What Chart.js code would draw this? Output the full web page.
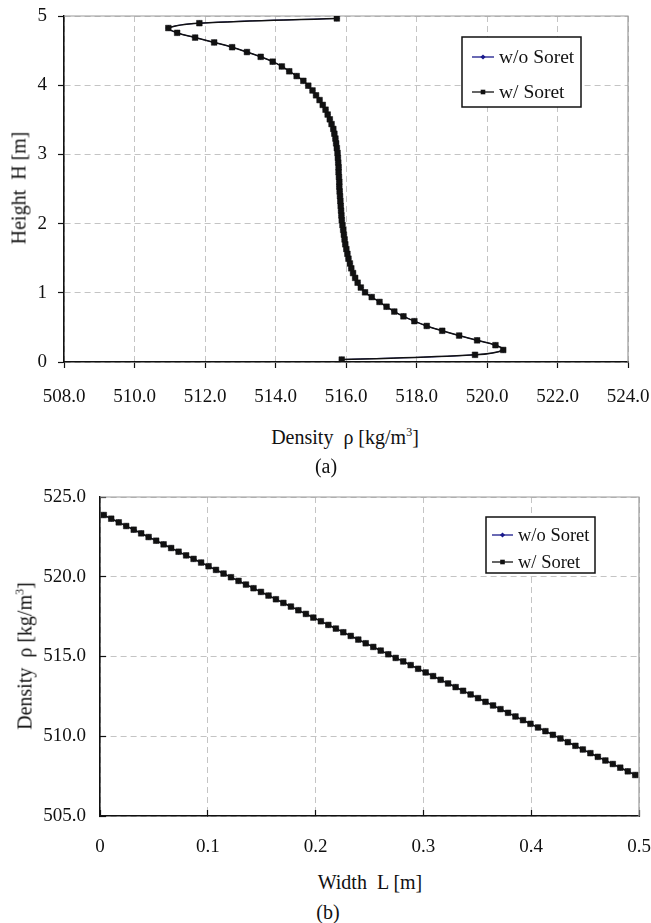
<!DOCTYPE html>
<html>
<head>
<meta charset="utf-8">
<script src="https://cdn.jsdelivr.net/npm/chart.js@4/dist/chart.umd.min.js"></script>
<style>
  body { margin: 0; background: #fff; width: 651px; height: 923px; position: relative; overflow: hidden; }
  canvas { position: absolute; left: 0; }
  #chartA { top: 0; }
  #chartB { top: 470px; }
  .lbl {
    position: absolute;
    font-family: "Liberation Serif", "Times New Roman", serif;
    font-size: 20px;
    color: #111;
    white-space: nowrap;
    transform: translate(-50%, -50%);
  }
  .rot { transform: translate(-50%, -50%) rotate(-90deg); }
  sup { font-size: 0.6em; line-height: 0; }
</style>
</head>
<body>
<canvas id="chartA" width="651" height="410"></canvas>
<canvas id="chartB" width="651" height="400"></canvas>

<div class="lbl" style="left:345px; top:437px;">Density&nbsp; ρ [kg/m<sup>3</sup>]</div>
<div class="lbl" style="left:326px; top:466px;">(a)</div>
<div class="lbl rot" style="left:19px; top:188px;">Height&nbsp; H [m]</div>

<div class="lbl" style="left:370px; top:882px;">Width&nbsp; L [m]</div>
<div class="lbl" style="left:328px; top:912px;">(b)</div>
<div class="lbl rot" style="left:25px; top:656px;">Density&nbsp; ρ [kg/m<sup>3</sup>]</div>

<script>
// (a) vertical profile: cell-centre heights [m] and density [kg/m3]
const heightA = [
  0.035, 0.104, 0.174, 0.243, 0.313, 0.382, 0.451, 0.521, 0.590, 0.660,
  0.729, 0.799, 0.868, 0.938, 1.007, 1.076, 1.146, 1.215, 1.285, 1.354,
  1.424, 1.493, 1.563, 1.632, 1.701, 1.771, 1.840, 1.910, 1.979, 2.049,
  2.118, 2.188, 2.257, 2.326, 2.396, 2.465, 2.535, 2.604, 2.674, 2.743,
  2.813, 2.882, 2.951, 3.021, 3.090, 3.160, 3.229, 3.299, 3.368, 3.438,
  3.507, 3.576, 3.646, 3.715, 3.785, 3.854, 3.924, 3.993, 4.063, 4.132,
  4.201, 4.271, 4.340, 4.410, 4.479, 4.549, 4.618, 4.688, 4.757, 4.826,
  4.896, 4.965
];
const rhoA_soret = [
  515.88, 519.66, 520.46, 520.24, 519.72, 519.21, 518.73, 518.29, 517.94, 517.63,
  517.37, 517.15, 516.95, 516.73, 516.54, 516.42, 516.33, 516.26, 516.20, 516.15,
  516.11, 516.07, 516.04, 516.01, 515.98, 515.96, 515.94, 515.92, 515.90, 515.88,
  515.87, 515.86, 515.85, 515.84, 515.83, 515.82, 515.81, 515.81, 515.80, 515.79,
  515.79, 515.78, 515.77, 515.76, 515.74, 515.72, 515.70, 515.67, 515.64, 515.59,
  515.54, 515.48, 515.42, 515.34, 515.25, 515.15, 515.05, 514.93, 514.79, 514.60,
  514.39, 514.18, 513.92, 513.58, 513.19, 512.77, 512.26, 511.72, 511.21, 510.96,
  511.84, 515.74
];
// without Soret the profile lies under the Soret one
const rhoA_noSoret = rhoA_soret.slice();
const rhoTicksA = [508, 510, 512, 514, 516, 518, 520, 522, 524];
const heightTicksA = [0, 1, 2, 3, 4, 5];

// (b) horizontal profile: cell-centre widths [m] and density [kg/m3]
const widthB = [
  0.0035, 0.0104, 0.0174, 0.0243, 0.0313, 0.0382, 0.0451, 0.0521, 0.0590, 0.0660,
  0.0729, 0.0799, 0.0868, 0.0938, 0.1007, 0.1076, 0.1146, 0.1215, 0.1285, 0.1354,
  0.1424, 0.1493, 0.1563, 0.1632, 0.1701, 0.1771, 0.1840, 0.1910, 0.1979, 0.2049,
  0.2118, 0.2188, 0.2257, 0.2326, 0.2396, 0.2465, 0.2535, 0.2604, 0.2674, 0.2743,
  0.2813, 0.2882, 0.2951, 0.3021, 0.3090, 0.3160, 0.3229, 0.3299, 0.3368, 0.3438,
  0.3507, 0.3576, 0.3646, 0.3715, 0.3785, 0.3854, 0.3924, 0.3993, 0.4063, 0.4132,
  0.4201, 0.4271, 0.4340, 0.4410, 0.4479, 0.4549, 0.4618, 0.4688, 0.4757, 0.4826,
  0.4896, 0.4965
];
const rhoB_soret = [
  523.87, 523.64, 523.41, 523.18, 522.95, 522.72, 522.49, 522.26, 522.03, 521.80,
  521.57, 521.34, 521.12, 520.89, 520.66, 520.43, 520.20, 519.97, 519.74, 519.51,
  519.28, 519.05, 518.82, 518.59, 518.36, 518.13, 517.90, 517.67, 517.44, 517.21,
  516.98, 516.75, 516.52, 516.29, 516.06, 515.83, 515.60, 515.37, 515.14, 514.91,
  514.69, 514.46, 514.23, 514.00, 513.77, 513.54, 513.31, 513.08, 512.85, 512.62,
  512.39, 512.16, 511.93, 511.70, 511.47, 511.24, 511.01, 510.78, 510.55, 510.32,
  510.09, 509.86, 509.63, 509.40, 509.17, 508.94, 508.71, 508.48, 508.26, 508.03,
  507.80, 507.57
];
const rhoB_noSoret = rhoB_soret.slice();
const widthTicksB = [0, 0.1, 0.2, 0.3, 0.4, 0.5];
const rhoTicksB = [505, 510, 515, 520, 525];

const seriesNames = ["w/o Soret", "w/ Soret"];

const serif = "'Liberation Serif', 'Times New Roman', serif";
const gridGrey = "#c4c4c4";

// grey frame on the top and right of the plot area
const plotFrame = {
  id: "plotFrame",
  beforeDatasetsDraw(chart) {
    const { ctx, chartArea: a } = chart;
    ctx.save();
    ctx.strokeStyle = "#9a9a9a";
    ctx.lineWidth = 1.2;
    ctx.beginPath();
    ctx.moveTo(a.left, a.top);
    ctx.lineTo(a.right, a.top);
    ctx.lineTo(a.right, a.bottom);
    ctx.stroke();
    ctx.restore();
  },
};

// boxed legend drawn inside the plot
const boxLegend = {
  id: "boxLegend",
  afterDraw(chart, args, opts) {
    const { ctx } = chart;
    ctx.save();
    ctx.fillStyle = "#fff";
    ctx.fillRect(opts.x, opts.y, opts.w, opts.h);
    ctx.strokeStyle = "#111";
    ctx.lineWidth = 1.5;
    ctx.strokeRect(opts.x, opts.y, opts.w, opts.h);
    ctx.font = opts.fontSize + "px " + serif;
    ctx.textBaseline = "middle";
    chart.data.datasets.forEach((ds, i) => {
      const y = opts.y + opts.rows[i];
      const x0 = opts.x + opts.lineX;
      ctx.strokeStyle = ds.borderColor;
      ctx.lineWidth = 1.3;
      ctx.beginPath();
      ctx.moveTo(x0, y);
      ctx.lineTo(x0 + opts.lineLen, y);
      ctx.stroke();
      ctx.fillStyle = ds.pointBackgroundColor;
      const m = x0 + opts.lineLen / 2;
      if (ds.pointStyle === "rectRot") {
        ctx.beginPath();
        ctx.moveTo(m, y - 2.6);
        ctx.lineTo(m + 2.6, y);
        ctx.lineTo(m, y + 2.6);
        ctx.lineTo(m - 2.6, y);
        ctx.closePath();
        ctx.fill();
      } else {
        ctx.fillRect(m - 2.3, y - 2.3, 4.6, 4.6);
      }
      ctx.fillStyle = "#111";
      ctx.fillText(ds.label, x0 + opts.lineLen + 5, y + 1);
    });
    ctx.restore();
  },
};

function makeSets(xs, ys, xsNo, ysNo) {
  return [
    {
      label: seriesNames[0],
      data: xsNo.map((x, i) => ({ x: x, y: ysNo[i] })),
      borderColor: "#1a1a8c",
      backgroundColor: "#1a1a8c",
      pointBackgroundColor: "#1a1a8c",
      pointBorderWidth: 0,
      pointStyle: "rectRot",
      pointRadius: 3,
      borderWidth: 1,
      showLine: true,
      tension: 0.4,
      order: 2,
    },
    {
      label: seriesNames[1],
      data: xs.map((x, i) => ({ x: x, y: ys[i] })),
      borderColor: "#111",
      backgroundColor: "#111",
      pointBackgroundColor: "#111",
      pointBorderWidth: 0.5,
      pointBorderColor: "#111",
      pointStyle: "rect",
      pointRadius: 4,
      borderWidth: 1.5,
      showLine: true,
      tension: 0.4,
      order: 1,
    },
  ];
}

function tickFont() {
  return { family: serif, size: 19 };
}

// tick padding would otherwise widen the margins around the plot
function fixX(h) {
  return (s) => { s.height = h; s.paddingLeft = 0; s.paddingRight = 0; };
}
function fixY(w) {
  return (s) => { s.width = w; s.paddingTop = 0; s.paddingBottom = 0; };
}

// (a) density against height
new Chart(document.getElementById("chartA"), {
  type: "scatter",
  data: { datasets: makeSets(rhoA_soret, heightA, rhoA_noSoret, heightA) },
  options: {
    responsive: false,
    animation: false,
    layout: { padding: { top: 16, right: 23, left: 0, bottom: 0 }, autoPadding: false },
    plugins: {
      legend: { display: false },
      tooltip: { enabled: false },
      boxLegend: { x: 462, y: 37, w: 119, h: 70, rows: [20, 55], lineX: 10, lineLen: 22, fontSize: 19.5 },
    },
    scales: {
      x: {
        type: "linear",
        min: rhoTicksA[0],
        max: rhoTicksA[rhoTicksA.length - 1],
        afterBuildTicks: (s) => { s.ticks = rhoTicksA.map((v) => ({ value: v })); },
        afterFit: fixX(48),
        ticks: { font: tickFont(), color: "#111", padding: 18, maxRotation: 0, callback: (v) => v.toFixed(1) },
        grid: { color: gridGrey, tickColor: "#111", tickLength: 6, tickWidth: 1.2, tickBorderDash: [] },
        border: { color: "#111", width: 1.6, dash: [6, 4] },
      },
      y: {
        type: "linear",
        min: heightTicksA[0],
        max: heightTicksA[heightTicksA.length - 1],
        afterBuildTicks: (s) => { s.ticks = heightTicksA.map((v) => ({ value: v })); },
        afterFit: fixY(64),
        ticks: { font: tickFont(), color: "#111", padding: 11, callback: (v) => String(v) },
        grid: { color: gridGrey, tickColor: "#111", tickLength: 6, tickWidth: 1.2, tickBorderDash: [] },
        border: { color: "#111", width: 1.6, dash: [6, 4] },
      },
    },
  },
  plugins: [plotFrame, boxLegend],
});

// (b) density against width
new Chart(document.getElementById("chartB"), {
  type: "scatter",
  data: { datasets: makeSets(widthB, rhoB_soret, widthB, rhoB_noSoret) },
  options: {
    responsive: false,
    animation: false,
    layout: { padding: { top: 27, right: 12, left: 0, bottom: 0 }, autoPadding: false },
    plugins: {
      legend: { display: false },
      tooltip: { enabled: false },
      boxLegend: { x: 486, y: 47, w: 109, h: 56, rows: [18, 45], lineX: 6, lineLen: 21, fontSize: 18.5 },
    },
    scales: {
      x: {
        type: "linear",
        min: widthTicksB[0],
        max: widthTicksB[widthTicksB.length - 1],
        afterBuildTicks: (s) => { s.ticks = widthTicksB.map((v) => ({ value: v })); },
        afterFit: fixX(54),
        ticks: { font: tickFont(), color: "#111", padding: 26, maxRotation: 0, callback: (v) => (v === 0 ? "0" : v.toFixed(1)) },
        grid: { color: gridGrey, tickColor: "#111", tickLength: -6, tickWidth: 1.2, tickBorderDash: [] },
        border: { color: "#111", width: 1.6, dash: [6, 4] },
      },
      y: {
        type: "linear",
        min: rhoTicksB[0],
        max: rhoTicksB[rhoTicksB.length - 1],
        afterBuildTicks: (s) => { s.ticks = rhoTicksB.map((v) => ({ value: v })); },
        afterFit: fixY(100),
        ticks: { font: tickFont(), color: "#111", padding: 20, callback: (v) => v.toFixed(1) },
        grid: { color: gridGrey, tickColor: "#111", tickLength: -6, tickWidth: 1.2, tickBorderDash: [] },
        border: { color: "#111", width: 1.6, dash: [6, 4] },
      },
    },
  },
  plugins: [plotFrame, boxLegend],
});
</script>
</body>
</html>
